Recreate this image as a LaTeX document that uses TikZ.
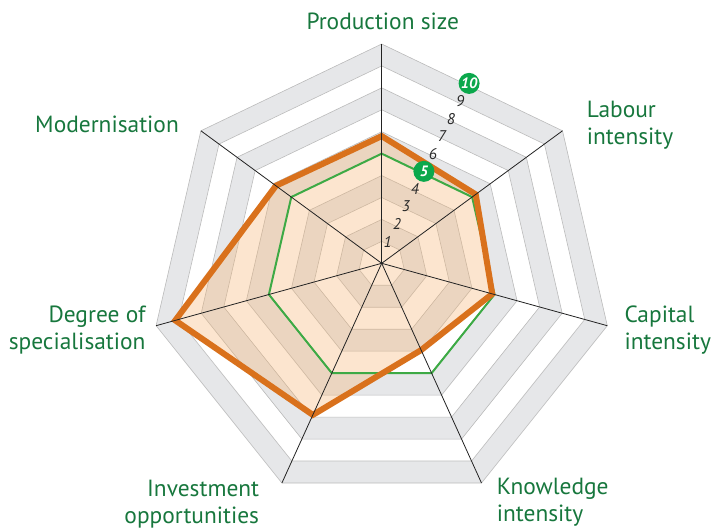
\documentclass[tikz,border=0pt]{standalone}
\usepackage{fontspec}
\setmainfont{PT Sans}
\usetikzlibrary{calc}
\definecolor{lblgreen}{HTML}{17773D}
\definecolor{bandgrey}{HTML}{E6E7E9}
\definecolor{ringline}{HTML}{BBBBBB}
\definecolor{orline}{HTML}{D9711C}
\definecolor{orfill}{HTML}{F6B26E}
\definecolor{grline}{HTML}{3DAA45}
\definecolor{dotgreen}{HTML}{0BA84C}
\definecolor{ticktext}{HTML}{2A2A2A}
\definecolor{axisline}{HTML}{222222}
\begin{document}
\begin{tikzpicture}[x=1pt,y=-1pt,
  lbl/.style={inner sep=0pt, text=lblgreen, font=\fontsize{23.4}{27}\selectfont},
  ticklbl/.style={inner sep=0pt, text=ticktext, font=\fontsize{15.5}{17}\selectfont\itshape},
  dotlbl/.style={circle, fill=dotgreen, inner sep=0pt, minimum size=21pt, text=white, font=\fontsize{15}{17}\selectfont\bfseries\itshape},
  axisstyle/.style={draw=axisline, line width=0.8pt},
  ringstyle/.style={draw=ringline, line width=0.6pt},
  datastyle/.style={draw=orline, line width=6pt, line join=miter},
  refstyle/.style={draw=grline, line width=2pt, line join=miter}]
\useasboundingbox (0,0) rectangle (723,529);
% centre of the axes and outer vertices
\coordinate (C) at (381.7,263.3);
\coordinate (V0) at (381.7,44);
\coordinate (V1) at (562.5,130.8);
\coordinate (V2) at (607.3,325.7);
\coordinate (V3) at (481.5,483);
\coordinate (V4) at (281.9,483);
\coordinate (V5) at (156.1,325.7);
\coordinate (V6) at (200.9,130.8);
\coordinate (M) at ($(V0)!0.5!(V1)$);
% bands
\foreach \k in {10,9,...,1} {
  \pgfmathsetmacro\f{\k/10}
  \pgfmathtruncatemacro\kodd{mod(\k,2)}
  \ifnum\kodd=0 \def\bandcol{bandgrey}\else\def\bandcol{white}\fi
  \path[fill=\bandcol, ringstyle] ($(C)!\f!(V0)$) -- ($(C)!\f!(V1)$) -- ($(C)!\f!(V2)$) -- ($(C)!\f!(V3)$) -- ($(C)!\f!(V4)$) -- ($(C)!\f!(V5)$) -- ($(C)!\f!(V6)$) -- cycle;
}
% data polygon
\coordinate (O0) at ($(C)!0.58!(V0)$);
\coordinate (O1) at ($(C)!0.52!(V1)$);
\coordinate (O2) at ($(C)!0.49!(V2)$);
\coordinate (O3) at ($(C)!0.395!(V3)$);
\coordinate (O4) at ($(C)!0.69!(V4)$);
\coordinate (O5) at ($(C)!0.915!(V5)$);
\coordinate (O6) at ($(C)!0.585!(V6)$);
\fill[orfill, fill opacity=0.33] (O0) -- (O1) -- (O2) -- (O3) -- (O4) -- (O5) -- (O6) -- cycle;
% reference polygon at level 5
\foreach \i in {0,...,6} { \coordinate (G\i) at ($(C)!0.5!(V\i)$); }
\path[refstyle] (G0) -- (G1) -- (G2) -- (G3) -- (G4) -- (G5) -- (G6) -- cycle;
\path[datastyle] (O0) -- (O1) -- (O2) -- (O3) -- (O4) -- (O5) -- (O6) -- cycle;
% axes
\foreach \i in {0,...,6} { \path[axisstyle] (C) -- (V\i); }
% scale labels
\foreach \k in {1,2,3,4,6,7,8,9} {
  \pgfmathsetmacro\f{\k/10}
  \node[ticklbl] (t\k) at ($(C)!\f!(M)+(-3,-4)$) {\k};
}
\node[dotlbl] (t5) at ($(C)!0.5!(M)+(-3,-4)$) {5};
\node[dotlbl] (t10) at ($(C)!1!(M)+(-3,-4)$) {10};
% axis labels
\node[lbl, anchor=base] (lp) at (382.7,29.3) {Production size};
\node[lbl, anchor=base east] (lm) at (179,132.3) {Modernisation};
\node[lbl, anchor=base west] (ll) at (586.7,117.3) {\begin{tabular}[t]{@{}l@{}}Labour\\intensity\end{tabular}};
\node[lbl, anchor=base west] (lc) at (624.3,322.3) {\begin{tabular}[t]{@{}l@{}}Capital\\intensity\end{tabular}};
\node[lbl, anchor=base west] (lk) at (496.7,494.3) {\begin{tabular}[t]{@{}l@{}}Knowledge\\intensity\end{tabular}};
\node[lbl, anchor=base east] (li) at (259.3,496) {\begin{tabular}[t]{@{}r@{}}Investment\\opportunities\end{tabular}};
\node[lbl, anchor=base east] (ld) at (145.7,322.3) {\begin{tabular}[t]{@{}r@{}}Degree of\\specialisation\end{tabular}};
\end{tikzpicture}
\end{document}
